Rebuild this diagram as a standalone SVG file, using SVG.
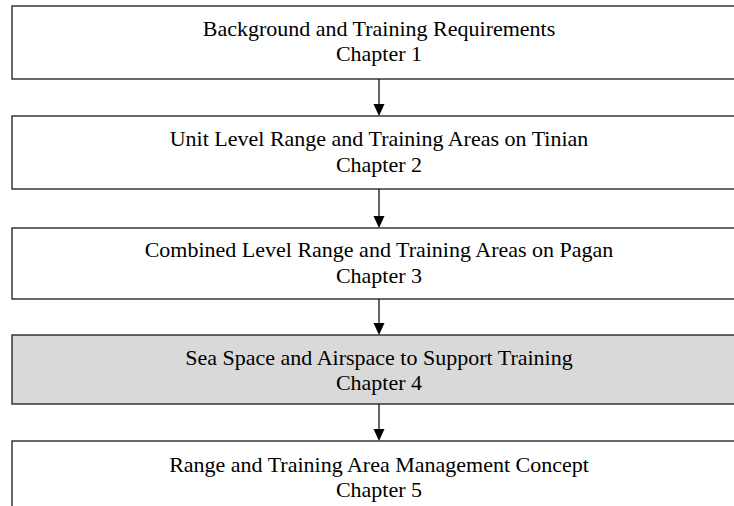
<svg xmlns="http://www.w3.org/2000/svg" width="734" height="506" viewBox="0 0 734 506">
<style>
.box{fill:#fff;stroke:#1a1a1a;stroke-width:1.3}
.shade{fill:#d9d9d9}
.t{font-family:"Liberation Serif","Times New Roman",serif;font-size:22px;fill:#000;text-anchor:middle}
.c{stroke:#000;stroke-width:1.2;fill:none}
.h{fill:#000}
</style>
<rect width="734" height="506" fill="#fff"/>
<g id="connectors">
<line class="c" x1="379" y1="79" x2="379" y2="106"/>
<path class="h" d="M373.5,104 L384.5,104 L379,116 Z"/>
<line class="c" x1="379" y1="189" x2="379" y2="218"/>
<path class="h" d="M373.5,216 L384.5,216 L379,228 Z"/>
<line class="c" x1="379" y1="299" x2="379" y2="325"/>
<path class="h" d="M373.5,323 L384.5,323 L379,335 Z"/>
<line class="c" x1="379" y1="404" x2="379" y2="431"/>
<path class="h" d="M373.5,429 L384.5,429 L379,441 Z"/>
</g>
<g id="ch1">
<rect class="box" x="12" y="6" width="730" height="73"/>
<text class="t" x="379" y="36">Background and Training Requirements</text>
<text class="t" x="379" y="61">Chapter 1</text>
</g>
<g id="ch2">
<rect class="box" x="12" y="116" width="730" height="73"/>
<text class="t" x="379" y="146">Unit Level Range and Training Areas on Tinian</text>
<text class="t" x="379" y="172">Chapter 2</text>
</g>
<g id="ch3">
<rect class="box" x="12" y="228" width="730" height="71"/>
<text class="t" x="379" y="257">Combined Level Range and Training Areas on Pagan</text>
<text class="t" x="379" y="283">Chapter 3</text>
</g>
<g id="ch4">
<rect class="box shade" x="12" y="335" width="730" height="69"/>
<text class="t" x="379" y="365">Sea Space and Airspace to Support Training</text>
<text class="t" x="379" y="390">Chapter 4</text>
</g>
<g id="ch5">
<rect class="box" x="12" y="441" width="730" height="80"/>
<text class="t" x="379" y="472">Range and Training Area Management Concept</text>
<text class="t" x="379" y="497">Chapter 5</text>
</g>
</svg>
